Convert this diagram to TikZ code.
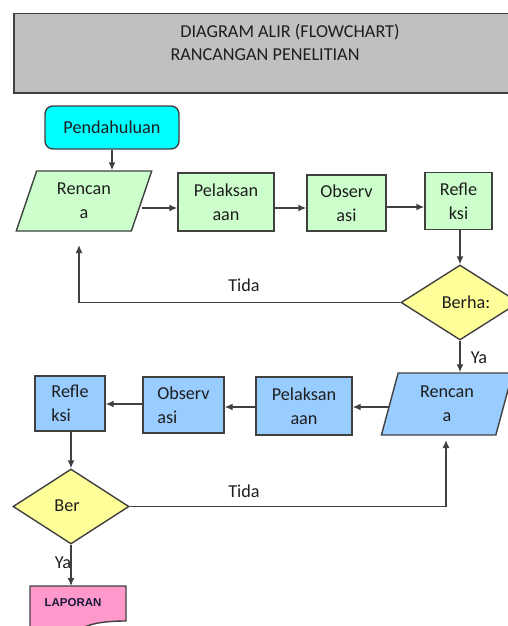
\documentclass[tikz,border=0pt]{standalone}
\usepackage{fontspec}
\setmainfont{Carlito}
\newfontfamily\lapfont{Liberation Sans}
\usetikzlibrary{shapes.geometric,arrows.meta}
\definecolor{hdrfill}{HTML}{C0C0C0}
\definecolor{bd}{HTML}{404040}
\definecolor{txt}{HTML}{1E1E1E}
\definecolor{gfill}{HTML}{CCFFCC}
\definecolor{bfill}{HTML}{99CCFF}
\definecolor{yfill}{HTML}{FFFF99}
\definecolor{cfill}{HTML}{00FFFF}
\definecolor{pfill}{HTML}{FF99CC}
\definecolor{laptxt}{HTML}{1A1A3A}
\begin{document}
\begin{tikzpicture}[x=1pt,y=-1pt,
  every node/.style={font=\fontsize{18.2}{24}\selectfont, text=txt},
  box/.style={draw=bd, line width=1.4pt, rectangle, inner sep=0pt, align=center},
  para/.style={draw=bd, line width=1.4pt, trapezium, trapezium stretches=true, inner sep=0pt, align=center},
  dia/.style={draw=bd, line width=1.4pt, diamond, fill=yfill, inner sep=0pt},
  arr/.style={draw=bd, line width=1.4pt, -{Latex[length=8pt,width=7pt]}},
  lbl/.style={inner sep=0pt}
]
\useasboundingbox (0,0) rectangle (508,626);
\clip (0,0) rectangle (508,626);

% header
\node[draw=bd, line width=1.5pt, fill=hdrfill, rectangle, minimum width=520pt, minimum height=79pt, anchor=north west, inner sep=0pt] (hdr) at (13,13) {};
\node[lbl] (h1) at (290,32) {DIAGRAM ALIR (FLOWCHART)};
\node[lbl] (h2) at (265,55) {RANCANGAN PENELITIAN};

% top row
\node[box, fill=cfill, rounded corners=8pt, minimum width=134pt, minimum height=43pt] (pend) at (112,127.5) {Pendahuluan};
\node[para, fill=gfill, trapezium left angle=72, trapezium right angle=108, minimum width=136pt, minimum height=60pt] (ren1) at (84,201) {Rencan\\a};
\node[box, fill=gfill, minimum width=96pt, minimum height=58pt] (pel1) at (226,202) {Pelaksan\\aan};
\node[box, fill=gfill, minimum width=79pt, minimum height=56pt] (obs1) at (346.5,203) {Observ\\asi};
\node[box, fill=gfill, minimum width=67pt, minimum height=57pt] (ref1) at (458.5,201) {Refle\\ksi};

\node[dia, minimum width=118pt, minimum height=75pt] (d1) at (460,302.5) {};
\node[lbl] (d1t) at (466,302) {Berha:};

% bottom row
\node[para, fill=bfill, trapezium left angle=75.5, trapezium right angle=104.5, minimum width=132pt, minimum height=62pt] (ren2) at (447,404) {Rencan\\a};
\node[box, fill=bfill, minimum width=96pt, minimum height=58pt] (pel2) at (304,406) {Pelaksan\\aan};
\node[box, fill=bfill, minimum width=81pt, minimum height=56pt, align=left] (obs2) at (183.5,405) {Observ\\asi};
\node[box, fill=bfill, minimum width=70pt, minimum height=55pt, align=left] (ref2) at (70,403.5) {Refle\\ksi};

\node[dia, minimum width=116pt, minimum height=75pt] (d2) at (71,506.5) {};
\node[lbl] (d2t) at (67,506) {Ber};

% LAPORAN document shape
\draw[draw=bd, line width=1.4pt, fill=pfill] (30,586) -- (126,586) -- (126,621)
  .. controls (102,621) and (88,624) .. (76,631) -- (30,640) -- cycle;
\node[lbl, font=\lapfont\bfseries\fontsize{11.5}{14}\selectfont, text=laptxt] (lap) at (73,603) {LAPORAN};
\coordinate (laptop) at (71,586);

% connectors
\draw[arr] (pend.south) -- (pend.south |- ren1.north);
\draw[arr] (ren1.east |- 0,208) -- (pel1.west |- 0,208);
\draw[arr] (pel1.east |- 0,208) -- (obs1.west |- 0,208);
\draw[arr] (obs1.east |- 0,207) -- (ref1.west |- 0,207);
\draw[arr] (ref1.south -| d1.north) -- (d1.north);

\coordinate (t1) at (79,245);
\draw[arr] (d1.west) -| (t1);
\node[lbl] (tida1) at (244,285) {Tida};

\draw[arr] (d1.south) -- (d1.south |- ren2.north);
\node[lbl] (ya1) at (479,358) {Ya};

\draw[arr] (ren2.west |- 0,407) -- (pel2.east |- 0,407);
\draw[arr] (pel2.west |- 0,407) -- (obs2.east |- 0,407);
\draw[arr] (obs2.west |- 0,404) -- (ref2.east |- 0,404);
\draw[arr] (ref2.south -| d2.north) -- (d2.north);

\coordinate (t2) at (446,440);
\draw[arr] (d2.east) -| (t2);
\node[lbl] (tida2) at (244,491) {Tida};

\draw[arr] (d2.south) -- (laptop);
\node[lbl] (ya2) at (63,563) {Ya};
\end{tikzpicture}
\end{document}
